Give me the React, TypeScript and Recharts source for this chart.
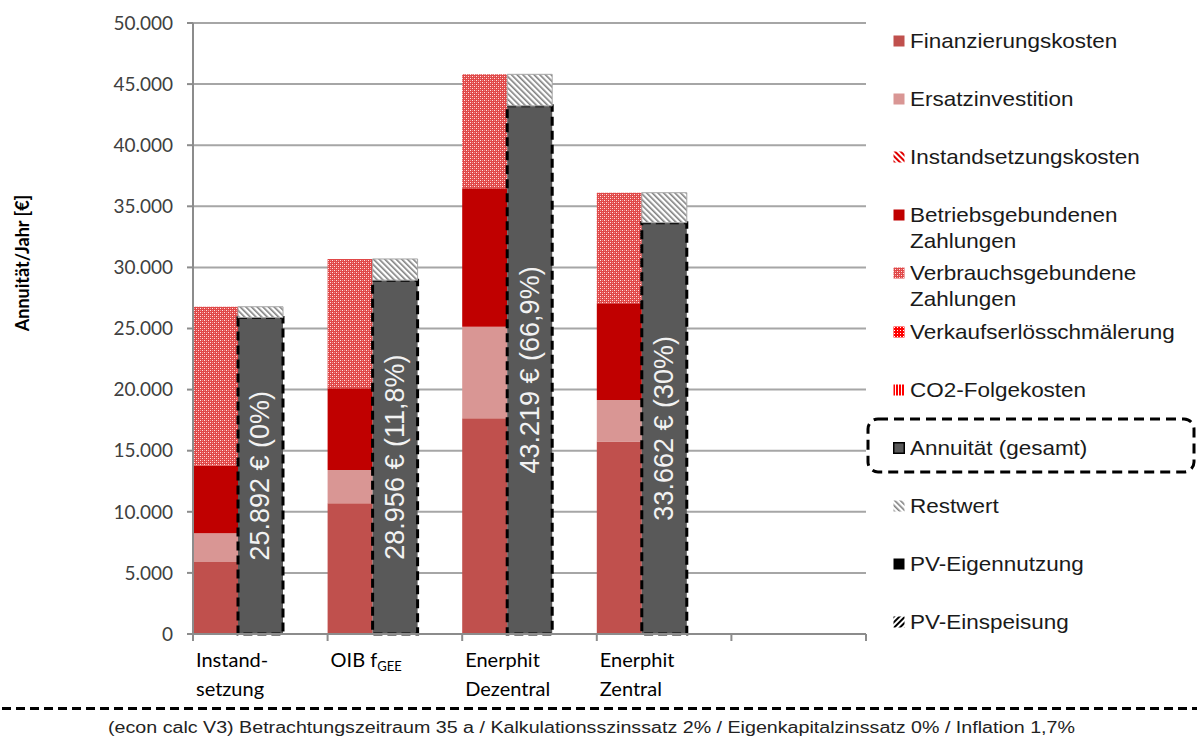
import React from 'react';
import { BarChart, Bar, XAxis, YAxis, CartesianGrid, LabelList } from 'recharts';

// values (€ per year)
const CATEGORIES = ['Instandsetzung', 'OIB fGEE', 'Enerphit Dezentral', 'Enerphit Zentral', ''];
const X_LABELS: string[][] = [['Instand-', 'setzung'], ['OIB f|GEE'], ['Enerphit', 'Dezentral'], ['Enerphit', 'Zentral'], []];

const FINANZ = [5900, 10700, 17650, 15750, 0];
const ERSATZ = [2350, 2720, 7500, 3400, 0];
const INSTAND = [0, 0, 0, 0, 0];
const BETRIEB = [5520, 6690, 11320, 7910, 0];
const VERBRAUCH = [13010, 10580, 9330, 9050, 0];
const VERKAUF = [0, 0, 0, 0, 0];
const CO2 = [0, 0, 0, 0, 0];
const ANNUITAET = [25892, 28956, 43219, 33662, 0];
const RESTWERT = [888, 1734, 2581, 2450, 0];
const PV_EIGEN = [0, 0, 0, 0, 0];
const PV_EINSP = [0, 0, 0, 0, 0];
const SPACER = [0, 0, 0, 0, 0];
const ANNUITAET_PCT = ['0%', '11,8%', '66,9%', '30%', ''];

const Y_TICKS = [0, 5000, 10000, 15000, 20000, 25000, 30000, 35000, 40000, 45000, 50000];

const LEGEND = [
  { label: 'Finanzierungskosten', fill: '#C0504D' },
  { label: 'Ersatzinvestition', fill: '#D99694' },
  { label: 'Instandsetzungskosten', fill: 'url(#pInstand)' },
  { label: 'Betriebsgebundenen\nZahlungen', fill: '#C00000' },
  { label: 'Verbrauchsgebundene\nZahlungen', fill: 'url(#pVerbrauch)' },
  { label: 'Verkaufserlösschmälerung', fill: 'url(#pVerkauf)' },
  { label: 'CO2-Folgekosten', fill: 'url(#pCo2)' },
  { label: 'Annuität (gesamt)', fill: '#595959', stroke: '#000' },
  { label: 'Restwert', fill: 'url(#pRest)' },
  { label: 'PV-Eigennutzung', fill: '#000' },
  { label: 'PV-Einspeisung', fill: 'url(#pPvEinsp)' },
];

const data = CATEGORIES.map((name, i) => ({
  name,
  finanz: FINANZ[i],
  ersatz: ERSATZ[i],
  instand: INSTAND[i],
  betrieb: BETRIEB[i],
  verbrauch: VERBRAUCH[i],
  verkauf: VERKAUF[i],
  co2: CO2[i],
  annuitaet: ANNUITAET[i],
  restwert: RESTWERT[i],
  pvEigen: PV_EIGEN[i],
  pvEinsp: PV_EINSP[i],
  spacer: SPACER[i],
}));

const fmt = (v: number) => String(Math.round(v)).replace(/\B(?=(\d{3})+(?!\d))/g, '.');

const ARIAL = '"Liberation Sans", Arial, sans-serif';
const CALIBRI = 'Lato, "Open Sans", sans-serif';
const SLOT = (866 - 193) / 5;

const XTick = (props: any) => {
  const { x, y, index } = props;
  const left = x - SLOT / 2;
  const lines = X_LABELS[index] || [];
  return (
    <g>
      <line x1={left} x2={left} y1={y} y2={y + 7} stroke="#8C8C8C" strokeWidth={2} />
      {index === CATEGORIES.length - 1 && (
        <line x1={left + SLOT} x2={left + SLOT} y1={y} y2={y + 7} stroke="#8C8C8C" strokeWidth={2} />
      )}
      {lines.map((ln, k) => {
        const [main, sub] = ln.split('|');
        return (
          <text key={k} x={left + 3} y={y + 33 + k * 29} fontSize={20} fontFamily={CALIBRI} fill="#000">
            {main}
            {sub && (
              <tspan fontSize={13} dy={4}>
                {sub}
              </tspan>
            )}
          </text>
        );
      })}
    </g>
  );
};

const AnnuityLabel = (props: any) => {
  const { x, y, width, height, value, index } = props;
  if (!value) return null;
  const cx = x + width / 2;
  const cy = y + height / 2;
  return (
    <text
      x={cx}
      y={cy}
      transform={`rotate(-90, ${cx}, ${cy})`}
      textAnchor="middle"
      dominantBaseline="central"
      fontSize={27}
      fontFamily={ARIAL}
      fill="#F2F2F2"
    >
      {`${fmt(value)} € (${ANNUITAET_PCT[index]})`}
    </text>
  );
};

const Patterns = () => (
  <svg width={0} height={0} style={{ position: 'absolute' }}>
    <defs>
      <pattern id="pVerbrauch" width={4} height={4} patternUnits="userSpaceOnUse">
        <rect width={4} height={4} fill="#E04848" shapeRendering="crispEdges" />
        <rect x={0} y={0} width={1} height={1} fill="#FFE4E4" shapeRendering="crispEdges" />
        <rect x={2} y={2} width={1} height={1} fill="#FFE4E4" shapeRendering="crispEdges" />
        <rect x={2} y={0} width={1} height={1} fill="#EE8E8E" shapeRendering="crispEdges" />
        <rect x={0} y={2} width={1} height={1} fill="#EE8E8E" shapeRendering="crispEdges" />
      </pattern>
      <pattern id="pInstand" width={4} height={4} patternUnits="userSpaceOnUse" patternTransform="rotate(-45)">
        <rect width={4} height={4} fill="#fff" />
        <rect width={2} height={4} fill="#E00000" />
      </pattern>
      <pattern id="pVerkauf" width={3} height={3} patternUnits="userSpaceOnUse">
        <rect width={3} height={3} fill="#FF0000" shapeRendering="crispEdges" />
        <rect x={1} y={1} width={1} height={1} fill="#fff" shapeRendering="crispEdges" />
      </pattern>
      <pattern id="pCo2" width={3} height={3} patternUnits="userSpaceOnUse">
        <rect width={3} height={3} fill="#fff" shapeRendering="crispEdges" />
        <rect width={2} height={3} fill="#FF0000" shapeRendering="crispEdges" />
      </pattern>
      <pattern id="pRest" width={4} height={4} patternUnits="userSpaceOnUse" patternTransform="rotate(-45)">
        <rect width={4} height={4} fill="#fff" />
        <rect width={1.6} height={4} fill="#7F7F7F" />
      </pattern>
      <pattern id="pPvEinsp" width={4} height={4} patternUnits="userSpaceOnUse" patternTransform="rotate(45)">
        <rect width={4} height={4} fill="#fff" />
        <rect width={2} height={4} fill="#000" />
      </pattern>
    </defs>
  </svg>
);

export default function App() {
  return (
    <div style={{ position: 'absolute', left: 0, top: 0, width: 1197, height: 738, background: '#fff', overflow: 'hidden' }}>
      <Patterns />
      <BarChart
        width={1197}
        height={738}
        data={data}
        margin={{ top: 23, right: 331, bottom: 0, left: 0 }}
        barCategoryGap={0}
        barGap={0}
      >
        <CartesianGrid vertical={false} stroke="#A6A6A6" strokeWidth={2} />
        <XAxis
          dataKey="name"
          height={104}
          interval={0}
          tickLine={false}
          tickSize={0}
          tickMargin={0}
          axisLine={{ stroke: '#8C8C8C', strokeWidth: 2 }}
          tick={<XTick />}
        />
        <YAxis
          width={193}
          domain={[0, 50000]}
          ticks={Y_TICKS}
          interval={0}
          tickFormatter={fmt}
          tickSize={6}
          tickMargin={14}
          tickLine={{ stroke: '#8C8C8C', strokeWidth: 2 }}
          axisLine={{ stroke: '#8C8C8C', strokeWidth: 2 }}
          tick={{ fill: '#404040', fontSize: 19, fontFamily: CALIBRI }}
        />
        <Bar dataKey="finanz" stackId="a" fill="#C0504D" isAnimationActive={false} />
        <Bar dataKey="ersatz" stackId="a" fill="#D99694" isAnimationActive={false} />
        <Bar dataKey="instand" stackId="a" fill="url(#pInstand)" isAnimationActive={false} />
        <Bar dataKey="betrieb" stackId="a" fill="#C00000" isAnimationActive={false} />
        <Bar dataKey="verbrauch" stackId="a" fill="url(#pVerbrauch)" isAnimationActive={false} />
        <Bar dataKey="verkauf" stackId="a" fill="url(#pVerkauf)" isAnimationActive={false} />
        <Bar dataKey="co2" stackId="a" fill="url(#pCo2)" isAnimationActive={false} />
        <Bar
          dataKey="annuitaet"
          stackId="b"
          fill="#595959"
          stroke="#000"
          strokeWidth={3}
          strokeDasharray="9 5"
          isAnimationActive={false}
        >
          <LabelList dataKey="annuitaet" content={<AnnuityLabel />} />
        </Bar>
        <Bar dataKey="restwert" stackId="b" fill="url(#pRest)" stroke="#A6A6A6" strokeWidth={1} isAnimationActive={false} />
        <Bar dataKey="pvEigen" stackId="b" fill="#000" isAnimationActive={false} />
        <Bar dataKey="pvEinsp" stackId="b" fill="url(#pPvEinsp)" isAnimationActive={false} />
        <Bar dataKey="spacer" stackId="c" fill="none" isAnimationActive={false} />
      </BarChart>

      <svg width={1197} height={738} style={{ position: 'absolute', left: 0, top: 0, pointerEvents: 'none' }}>
        <text
          x={22}
          y={263}
          transform="rotate(-90, 22, 263)"
          textAnchor="middle"
          dominantBaseline="central"
          fontSize={18}
          fontWeight="bold"
          fontFamily={CALIBRI}
          fill="#000"
        >
          Annuität/Jahr [€]
        </text>
        <rect x={868} y={419} width={326} height={53} rx={10} fill="none" stroke="#000" strokeWidth={3} strokeDasharray="10 6" />
        <line x1={2} x2={1197} y1={708.5} y2={708.5} stroke="#000" strokeWidth={3} strokeDasharray="9 5" />
        <text x={108} y={733} fontSize={16} fontFamily={ARIAL} fill="#222" textLength={967} lengthAdjust="spacingAndGlyphs">
          (econ calc V3) Betrachtungszeitraum 35 a / Kalkulationsszinssatz 2% / Eigenkapitalzinssatz 0% / Inflation 1,7%
        </text>
      </svg>

      {LEGEND.map((item, i) => (
        <div
          key={item.label}
          style={{ position: 'absolute', left: 893, top: 41 + i * 58.1 - 13, display: 'flex', alignItems: 'flex-start' }}
        >
          <svg width={12} height={12} style={{ marginTop: 7, flex: 'none' }}>
            <rect
              x={0.5}
              y={0.5}
              width={11}
              height={11}
              fill={item.fill}
              stroke={item.stroke || 'none'}
              strokeWidth={item.stroke ? 2 : 0}
            />
          </svg>
          <span
            style={{
              marginLeft: 5,
              fontFamily: ARIAL,
              fontSize: 21,
              lineHeight: '26px',
              color: '#1a1a1a',
              whiteSpace: 'pre-line',
              display: 'inline-block',
              transform: 'scaleX(1.07)',
              transformOrigin: 'left center',
            }}
          >
            {item.label}
          </span>
        </div>
      ))}
    </div>
  );
}
